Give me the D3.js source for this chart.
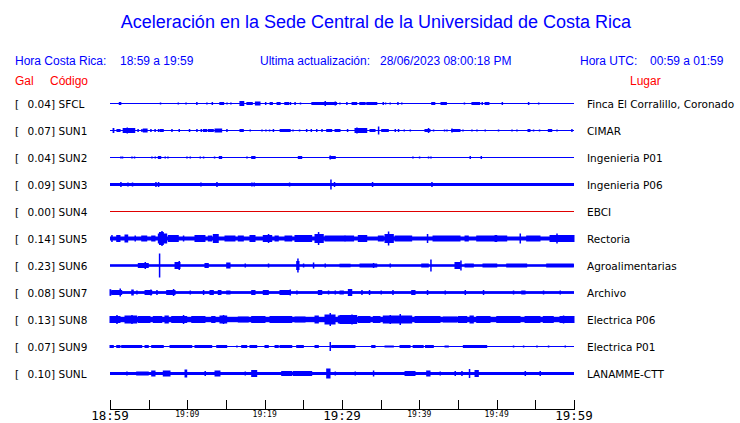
<!DOCTYPE html>
<html><head><meta charset="utf-8">
<script src="https://cdn.jsdelivr.net/npm/d3@7"></script>
<style>body{margin:0;background:#fff}svg{display:block}</style>
</head><body>
<script>
// ---- data ----
const codigos = ["SFCL","SUN1","SUN2","SUN3","SUN4","SUN5","SUN6","SUN7","SUN8","SUN9","SUNL"];
const gal = [0.04,0.07,0.04,0.09,0.00,0.14,0.23,0.08,0.13,0.07,0.10];
const lugares = ["Finca El Corralillo, Coronado","CIMAR","Ingenieria P01","Ingenieria P06","EBCI","Rectoria","Agroalimentarias","Archivo","Electrica P06","Electrica P01","LANAMME-CTT"];
const baseAmp = [0.5,0.5,0.5,1.5,0.5,2,1.3,1.4,2.7,0.5,1.5];
// events: [start minute, end minute, half amplitude]
const evSFCL = [[1.2,1.4,1.5],[6.5,6.5,1],[8.8,8.8,1],[9.8,9.8,1],[11.2,11.2,1.5],[12.5,12.5,1],[13.2,13.2,1.5],[14.2,14.7,1.5],[15.1,15.1,1],[15.6,15.6,1],[16.8,17.3,2.5],[17.7,18.4,1.5],[18.8,19.4,2],[20.1,20.1,1.5],[20.7,21.0,1.5],[21.6,22.0,1.5],[22.6,23.1,1.5],[23.3,23.3,1.5],[23.9,23.9,1.5],[24.6,24.6,1],[26.1,29.3,1.5],[27.8,27.8,2.5],[29.1,29.1,2],[29.7,29.7,1],[30.6,30.6,1.5],[31.3,31.9,1.5],[32.3,33.0,1.5],[33.2,34.5,1.5],[35.3,35.3,1.5],[35.6,35.6,1],[36.2,36.2,1],[37.2,37.2,1.5],[37.7,37.7,1],[41.6,42.0,1.5],[42.8,43.5,1.5],[45.8,45.8,1],[46.8,47.8,1.5],[48.1,48.1,1.5],[48.5,49.0,1.5],[50.7,50.7,1.5],[54.1,54.1,1.5],[55.4,55.4,1]];
const evSUN1 = [[0.4,0.5,2.5],[0.9,1.3,1.5],[1.7,3.2,2.5],[2.2,2.2,3],[3.6,3.6,1.5],[4.1,4.1,1.5],[4.3,4.8,2],[5.26,5.26,1.5],[5.8,5.8,1.5],[6.25,6.25,1.5],[6.47,6.89,1.5],[7.98,7.98,1.5],[8.92,8.92,1.5],[10.25,10.25,1.5],[11.21,11.21,1.5],[11.77,11.77,1.5],[12.07,12.5,1.5],[12.71,13.36,1.5],[13.58,14.44,2],[15.09,15.09,1.5],[16.81,17.24,1.5],[18.1,18.1,1],[19.62,19.62,1],[20.13,20.13,1],[20.6,20.6,1],[21.1,21.1,1.5],[22.0,23.3,1.5],[23.63,23.63,1],[24.48,24.48,1],[25.4,25.4,1.5],[26.0,26.0,1.5],[26.7,26.7,1.5],[27.38,27.38,1.5],[28.02,28.67,1.5],[29.1,29.74,1.5],[30.69,30.69,1.5],[31.68,33.2,2.5],[31.9,31.9,3],[33.62,34.27,1.5],[34.7,34.7,4],[35.13,35.99,1.5],[36.86,36.86,1.5],[37.28,37.28,1.5],[38.02,38.02,1],[38.8,38.8,1],[40.73,41.38,1.5],[41.16,41.16,2.5],[41.81,41.81,1],[43.23,43.23,1],[43.54,43.54,1],[44.19,45.26,1.5],[44.19,44.19,2],[45.61,45.61,1],[46.77,46.77,1],[47.42,47.42,1],[48.49,48.49,1],[50.21,50.21,1],[51.95,51.95,1],[52.59,52.59,1],[54.05,54.31,1.5],[54.74,54.74,1],[55.51,55.51,1],[56.68,57.12,1.5],[57.77,57.77,1],[59.7,59.7,1.5]];
const evSUN2 = [[1.38,1.38,1],[1.59,1.59,1],[2.81,2.81,1],[3.14,3.14,1],[5.39,5.39,1],[5.82,5.82,1],[6.25,6.56,1.5],[7.11,7.11,1],[7.46,7.46,1],[9.92,9.92,1],[10.35,10.35,1],[11.64,11.64,1],[12.07,12.07,1],[13.49,13.49,1],[14.13,14.44,1.5],[17.68,17.68,1],[18.32,18.75,1.5],[24.35,24.79,1.5],[28.45,28.45,2],[28.45,29.13,1.5],[39.14,39.14,1],[40.0,40.0,1],[41.16,41.16,1],[41.47,41.47,1],[46.55,46.55,1.5],[47.98,47.98,1.5]];
const evSUN3 = [[1.38,1.38,2.5],[2.29,2.29,2],[2.88,2.88,2],[5.91,5.91,2.5],[6.25,6.25,2.5],[11.73,11.73,2],[13.8,13.8,2.5],[18.32,18.32,2],[18.62,18.62,2],[23.19,23.19,2],[28.54,28.54,5],[29.0,29.0,2.5],[33.92,33.92,2.5],[41.6,41.6,2.5]];
const evSUN4 = [];
const evSUN5 = [[0.22,0.22,3.5],[0.87,1.29,3.5],[1.94,2.29,4],[3.23,3.23,3],[4.1,4.75,3],[5.39,5.82,3],[6.25,7.33,5],[6.4,6.9,6.5],[6.69,6.69,7.5],[7.54,8.83,3.5],[9.48,9.48,3],[10.99,12.28,3.5],[12.71,13.15,3],[13.36,14.0,4.5],[14.87,16.16,3],[16.59,17.24,3],[18.1,18.75,3.5],[19.82,20.91,3.5],[20.47,20.47,4.5],[21.34,21.76,3],[22.63,23.5,3],[23.92,26.08,3.5],[26.51,27.58,4.5],[26.94,26.94,6.5],[27.8,30.39,3],[30.39,31.5,3],[32.11,33.2,3.5],[34.7,35.34,3],[35.56,36.64,4.5],[35.99,35.99,7],[36.86,39.01,3],[41.03,41.03,4.5],[41.77,45.26,3],[45.91,46.33,3],[47.42,51.3,3],[49.79,50.01,3.5],[53.02,53.02,5],[53.88,55.6,3],[56.9,60,3.5],[57.77,57.77,5]];
const evSUN6 = [[3.66,4.95,2.5],[4.53,4.53,3.5],[6.38,6.38,12],[8.41,9.05,3.5],[8.92,8.92,4.5],[12.28,12.71,2.5],[15.09,15.52,3],[17.46,17.46,2],[20.47,20.47,2],[24.14,24.44,4.5],[24.27,24.27,7],[25.0,25.0,2],[26.29,26.29,3],[27.8,27.8,2],[29.74,31.04,1.8],[32.33,34.49,2],[34.05,34.05,2.5],[36.21,36.21,2],[40.31,41.16,2],[41.47,41.47,6],[44.61,45.26,3.5],[45.35,45.35,5],[45.91,46.98,2],[48.23,50.01,2],[51.3,53.88,2],[56.47,59.91,2]];
const evSUN7 = [[0,0.1,3.3],[0.22,1.51,2.5],[1.29,1.29,4],[2.81,3.01,3],[3.45,3.45,2],[4.53,5.39,2.5],[5.26,5.26,3],[6.04,6.04,2.5],[7.33,8.41,2.5],[8.19,8.19,3.5],[10.35,10.35,2],[12.07,12.07,2.5],[12.93,13.36,2.5],[14.0,14.35,2.5],[15.09,15.52,2],[18.32,18.75,2.5],[19.82,20.47,2.5],[21.98,23.28,2.5],[23.28,23.28,3],[24.14,24.14,2],[26.94,27.38,2.5],[28.23,28.23,2],[29.1,29.1,2],[29.74,30.17,2],[30.82,31.26,3.5],[32.55,32.55,2.5],[33.53,33.53,2.5],[35.04,35.04,2],[36.56,36.56,2.5],[39.01,39.44,2.5],[41.03,41.03,2.5],[43.32,43.32,2],[45.91,45.91,2.5],[48.27,48.27,2.5],[52.15,52.15,2],[53.24,53.67,2],[56.03,56.03,2],[58.19,58.19,2]];
const evSUN8 = [[0,1.29,3.5],[0.87,0.87,4.5],[1.94,3.45,4],[2.81,2.81,4.5],[3.66,5.17,3.5],[5.6,6.69,3.5],[7.11,7.54,4],[7.98,9.92,3.5],[9.48,9.48,4.5],[10.57,12.28,3.5],[13.15,13.58,3.5],[14.22,15.09,4],[14.65,14.65,4.5],[16.59,17.88,3],[18.32,20.04,3.5],[20.69,23.5,3.5],[23.92,25.22,3],[26.51,26.94,4],[27.8,29.1,5],[28.45,28.45,6.5],[29.52,30.39,4],[29.74,31.9,4.5],[31.26,31.26,5],[32.11,33.62,3.5],[34.05,34.91,3.5],[35.34,39.01,4],[36.21,36.21,4.5],[37.5,37.5,5.5],[39.44,42.67,3.5],[43.1,44.83,3],[45.04,46.13,3.5],[46.55,46.98,4],[47.42,49.14,3.5],[50.01,53.02,3.5],[53.67,55.6,3.5],[56.03,57.32,3.5],[58.19,60,3.5],[58.62,58.62,4]];
const evSUN9 = [[0,0.43,1.5],[0.87,1.29,1.5],[1.51,4.1,1.5],[4.53,4.95,1.5],[5.39,6.89,1.5],[7.76,10.57,1.5],[10.99,13.15,1.5],[13.8,15.09,1.5],[16.38,16.38,1],[17.03,17.68,1.5],[18.1,18.97,1.5],[20.04,20.47,1.5],[21.34,21.76,1.5],[21.98,23.5,1.5],[24.14,25.0,1.5],[26.51,26.94,1.5],[28.45,28.45,4.5],[28.67,31.68,1.5],[33.84,34.27,1.5],[35.56,36.64,1],[37.5,38.8,1.5],[39.2,40.5,1.5],[40.8,41.81,1.5],[43.32,43.75,1],[45.69,48.71,1.5],[52.15,52.15,1],[53.45,53.45,1],[55.18,55.18,1],[56.68,56.68,1],[58.84,58.84,1]];
const evSUNL = [[2.16,2.16,2],[3.45,4.95,2],[5.39,5.82,3],[6.89,7.76,3],[9.7,9.92,4],[12.28,12.28,2.5],[13.58,14.22,3],[17.46,17.46,2],[18.32,18.97,3.5],[22.2,23.5,2.5],[23.7,26.08,2.5],[28.02,28.45,5],[29.1,29.1,2],[31.68,31.68,2],[34.05,34.05,3],[38.15,39.44,2.5],[40.95,41.38,3],[42.67,42.67,2],[44.61,44.61,2.5],[45.48,45.48,2.5],[46.46,46.46,4.5],[47.2,47.63,3.5],[53.67,53.67,2.5],[55.6,55.6,2.5]];
const eventos = [evSFCL,evSUN1,evSUN2,evSUN3,evSUN4,evSUN5,evSUN6,evSUN7,evSUN8,evSUN9,evSUNL];
const tickMinutes = [0,5,10,15,20,25,30,35,40,45,50,55,60];
const bigTicks = [[0,"18:59"],[30,"19:29"],[60,"19:59"]];
const smallTicks = [[10,"19:09"],[20,"19:19"],[40,"19:39"],[50,"19:49"]];

// ---- drawing ----
const W = 740, H = 423;
const svg = d3.select("body").append("svg").attr("width", W).attr("height", H);
const BLUE = "#0000ff", RED = "#ff0000";

const x = d3.scaleLinear().domain([0, 60]).range([110, 574]);
const y = d3.scalePoint().domain(codigos).range([103.5, 373.5]);
const a = d3.scaleLinear().domain([0, 1]).range([0, 1]);

svg.append("text").attr("x", 376).attr("y", 28).attr("text-anchor", "middle")
  .attr("font-family", "Liberation Sans, Arial, sans-serif").attr("font-size", 18)
  .attr("fill", BLUE).text("Aceleración en la Sede Central de la Universidad de Costa Rica");

const hdr = svg.append("g").attr("font-family", "Liberation Sans, Arial, sans-serif").attr("font-size", 12);
[[15,"Hora Costa Rica:"],[120,"18:59 a 19:59"],[260,"Ultima actualización:"],[380,"28/06/2023 08:00:18 PM"],[580,"Hora UTC:"],[650,"00:59 a 01:59"]]
  .forEach(d => hdr.append("text").attr("x", d[0]).attr("y", 65).attr("fill", BLUE).text(d[1]));
[[15,"Gal"],[50,"Código"],[630,"Lugar"]]
  .forEach(d => hdr.append("text").attr("x", d[0]).attr("y", 85).attr("fill", RED).text(d[1]));

const rows = svg.append("g").selectAll("g").data(codigos).join("g");
rows.each(function(code, i) {
  const g = d3.select(this);
  const cy = y(code);
  const col = code === "SUN4" ? "#e00000" : BLUE;
  g.append("rect").attr("x", x(0)).attr("width", x(60) - x(0))
    .attr("y", cy - a(baseAmp[i])).attr("height", 2 * a(baseAmp[i])).attr("fill", col);
  g.selectAll("rect.ev").data(eventos[i]).join("rect").attr("class", "ev")
    .attr("x", d => x(d[0]) - 0.5)
    .attr("width", d => Math.max(1.5, x(d[1]) - x(d[0]) + 1))
    .attr("y", d => cy - a(d[2])).attr("height", d => 2 * a(d[2])).attr("fill", col);
  const t = g.append("g").attr("font-family", "DejaVu Sans, sans-serif").attr("font-size", 10.5).attr("fill", "#000");
  t.append("text").attr("x", 15).attr("y", cy + 4).text("[");
  t.append("text").attr("x", 55).attr("y", cy + 4).attr("text-anchor", "end").text(gal[i].toFixed(2) + "]");
  t.append("text").attr("x", 58.5).attr("y", cy + 4).text(code);
  t.append("text").attr("x", 587).attr("y", cy + 4).text(lugares[i]);
});

const ax = svg.append("g");
ax.append("line").attr("x1", x(0)).attr("x2", x(60)).attr("y1", 409.5).attr("y2", 409.5).attr("stroke", "#000");
ax.selectAll("line.t").data(tickMinutes).join("line").attr("class", "t")
  .attr("x1", d => Math.round(x(d)) + 0.5).attr("x2", d => Math.round(x(d)) + 0.5)
  .attr("y1", 400).attr("y2", 410).attr("stroke", "#000");
ax.selectAll("text.big").data(bigTicks).join("text").attr("class", "big")
  .attr("x", d => x(d[0])).attr("y", 420).attr("text-anchor", "middle")
  .attr("font-family", "DejaVu Sans Mono, monospace").attr("font-size", 12.5).text(d => d[1]);
ax.selectAll("text.sm").data(smallTicks).join("text").attr("class", "sm")
  .attr("x", d => x(d[0])).attr("y", 417).attr("text-anchor", "middle")
  .attr("font-family", "DejaVu Sans Mono, monospace").attr("font-size", 8).text(d => d[1]);
</script>
</body></html>
